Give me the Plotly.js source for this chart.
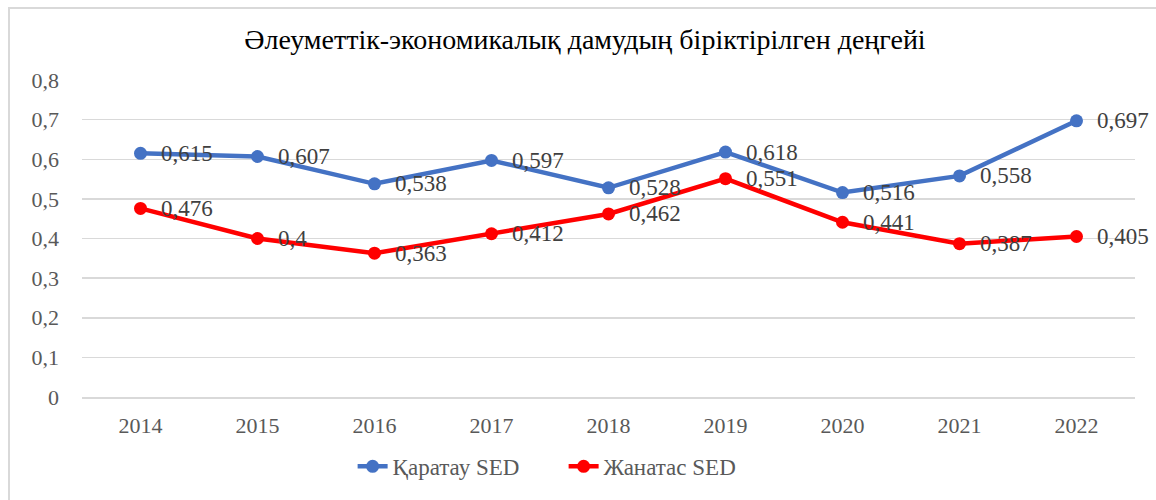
<!DOCTYPE html>
<html>
<head>
<meta charset="utf-8">
<script src="https://cdn.plot.ly/plotly-3.0.1.min.js"></script>
<style>
html,body{margin:0;padding:0;background:#fff;}
#wrap{position:relative;width:1156px;height:500px;}
#chart{width:1156px;height:500px;}
#frame{position:absolute;left:8px;top:7px;width:1170px;height:520px;border:2px solid #d9d9d9;pointer-events:none;box-sizing:border-box;}
</style>
</head>
<body>
<div id="wrap"><div id="chart"></div><div id="frame"></div></div>
<script>
const years = ['2014','2015','2016','2017','2018','2019','2020','2021','2022'];
const karatau = [0.615, 0.607, 0.538, 0.597, 0.528, 0.618, 0.516, 0.558, 0.697];
const zhanatas = [0.476, 0.4, 0.363, 0.412, 0.462, 0.551, 0.441, 0.387, 0.405];
const seriesNames = ['Қаратау SED', 'Жанатас SED'];
const yTicks = [0, 0.1, 0.2, 0.3, 0.4, 0.5, 0.6, 0.7, 0.8];

const fmt = v => String(v).replace('.', ',');
const serif = '"Liberation Serif", "Times New Roman", Times, serif';

const traces = [
  {x: years, y: karatau, name: seriesNames[0], type: 'scatter', mode: 'lines+markers',
   line: {color: '#4472C4', width: 4.5}, marker: {color: '#4472C4', size: 13}, cliponaxis: false},
  {x: years, y: zhanatas, name: seriesNames[1], type: 'scatter', mode: 'lines+markers',
   line: {color: '#FF0000', width: 4.5}, marker: {color: '#FF0000', size: 13}, cliponaxis: false}
];

const labelFont = {family: serif, size: 23, color: '#404040'};
const annotations = [];
[karatau, zhanatas].forEach(series => {
  series.forEach((v, i) => {
    // category axis: position by category index
    annotations.push({x: i, y: v, xref: 'x', yref: 'y', text: fmt(v), showarrow: false,
      xanchor: 'left', yanchor: 'middle', xshift: 18, font: labelFont});
  });
});

const layout = {
  width: 1156, height: 500,
  margin: {l: 82, r: 21, t: 80, b: 100},
  paper_bgcolor: '#fff', plot_bgcolor: '#fff',
  separators: ',.',
  font: {family: serif, color: '#595959'},
  title: {text: 'Әлеуметтік-экономикалық дамудың біріктірілген деңгейі',
          font: {family: serif, size: 28, color: '#000'}, x: 0.506, xanchor: 'center', y: 0.922, yanchor: 'middle'},
  xaxis: {type: 'category', range: [-0.5, 8.5], showgrid: false, zeroline: false, automargin: false,
          showline: true, linecolor: '#d9d9d9', linewidth: 2,
          tickfont: {family: serif, size: 22, color: '#595959'}, ticks: '', ticklabelstandoff: 8},
  yaxis: {range: [0, 0.8], tickvals: yTicks, ticktext: yTicks.map(fmt), showgrid: true, automargin: false,
          gridcolor: '#d9d9d9', gridwidth: 1.5, zeroline: false, showline: false,
          tickfont: {family: serif, size: 22, color: '#595959'}, ticks: '', ticklabelstandoff: 22},
  legend: {orientation: 'h', x: 0.257, xanchor: 'left', y: -0.219, yanchor: 'middle', entrywidth: 166,
           font: {family: serif, size: 23, color: '#595959'}},
  annotations: annotations,
  showlegend: true
};

Plotly.newPlot('chart', traces, layout, {displayModeBar: false, staticPlot: true});
</script>
</body>
</html>
